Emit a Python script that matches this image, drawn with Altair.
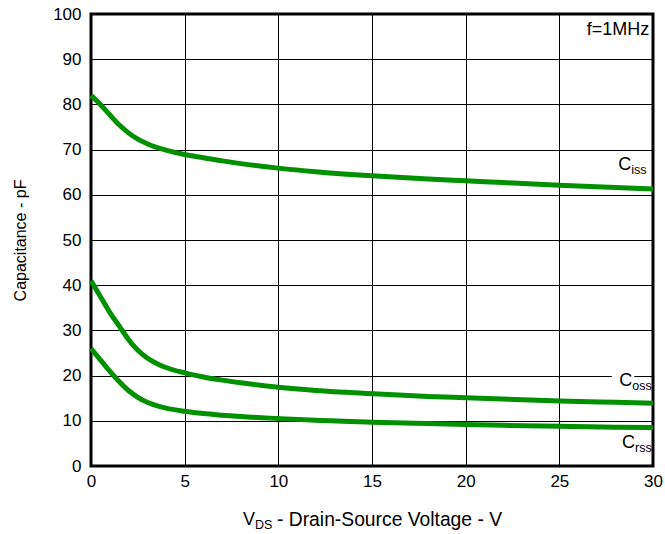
import altair as alt
import pandas as pd

vds = [0, 0.5, 1, 1.5, 2, 2.5, 3, 3.5, 4, 5, 6, 7, 8, 10, 12, 15, 18, 20, 22, 25, 28, 30]
ciss = [82, 80, 77.7, 75.5, 73.7, 72.3, 71.3, 70.5, 69.9, 68.9, 68.2, 67.5, 66.9, 65.9, 65.1, 64.2, 63.5, 63.1, 62.7, 62.1, 61.6, 61.3]
coss = [41, 37.5, 34, 31.0, 28.0, 25.6, 23.9, 22.7, 21.8, 20.6, 19.7, 19.0, 18.4, 17.4, 16.7, 16.0, 15.4, 15.1, 14.8, 14.4, 14.1, 13.9]
crss = [26, 23.5, 21, 18.7, 16.7, 15.2, 14.1, 13.35, 12.8, 12.1, 11.6, 11.25, 10.95, 10.5, 10.1, 9.7, 9.4, 9.2, 9.0, 8.8, 8.6, 8.5]

x_ticks = [0, 5, 10, 15, 20, 25, 30]
y_ticks = [0, 10, 20, 30, 40, 50, 60, 70, 80, 90, 100]

rows = []
for name, vals in [("Ciss", ciss), ("Coss", coss), ("Crss", crss)]:
    for v, c in zip(vds, vals):
        rows.append({"series": name, "vds": v, "cap": c})
df = pd.DataFrame(rows)

FONT = "Liberation Sans"
xs = alt.Scale(domain=[0, 30], nice=False, zero=False)
ys = alt.Scale(domain=[0, 100], nice=False)

lines = alt.Chart(df).mark_line(color="#009000", strokeWidth=5, interpolate="monotone").encode(
    x=alt.X("vds:Q", scale=xs, axis=alt.Axis(values=x_ticks, title=None, grid=True, gridColor="black",
            gridWidth=1, gridOpacity=1, ticks=False, domain=False, labelFontSize=17, labelFont=FONT,
            labelColor="black", labelPadding=7, labelFlush=False)),
    y=alt.Y("cap:Q", scale=ys, axis=alt.Axis(values=y_ticks, title="Capacitance - pF", grid=True,
            gridColor="black", gridWidth=1, gridOpacity=1, ticks=False, domain=False, labelFontSize=17,
            labelFont=FONT, labelColor="black", labelPadding=10, labelFlush=False, titleFontSize=16,
            titleFont=FONT, titleFontWeight="normal", titleColor="black", titlePadding=24)),
    detail="series:N",
)

# white patch behind C_oss label
patch_df = pd.DataFrame([{"x1": 27.8, "x2": 29.0, "y1": 19.4, "y2": 20.6}])
patch = alt.Chart(patch_df).mark_rect(color="white").encode(
    x=alt.X("x1:Q", scale=xs), x2="x2:Q", y=alt.Y("y1:Q", scale=ys), y2="y2:Q")

lab_df = pd.DataFrame([
    {"x": 28.15, "y": 66.7, "main": "C", "sub": "iss"},
    {"x": 28.2, "y": 18.9, "main": "C", "sub": "oss"},
    {"x": 28.35, "y": 5.0, "main": "C", "sub": "rss"},
])
main_txt = alt.Chart(lab_df).mark_text(align="left", baseline="middle", fontSize=18, font=FONT,
                                       color="black").encode(
    x=alt.X("x:Q", scale=xs), y=alt.Y("y:Q", scale=ys), text="main:N")
sub_txt = alt.Chart(lab_df).mark_text(align="left", baseline="middle", fontSize=12.5, font=FONT,
                                      color="black", dx=13, dy=5).encode(
    x=alt.X("x:Q", scale=xs), y=alt.Y("y:Q", scale=ys), text="sub:N")

f_df = pd.DataFrame([{"x": 29.8, "y": 96.5, "t": "f=1MHz"}])
f_txt = alt.Chart(f_df).mark_text(align="right", baseline="middle", fontSize=18, font=FONT,
                                  color="black").encode(
    x=alt.X("x:Q", scale=xs), y=alt.Y("y:Q", scale=ys), text="t:N")

# x-axis title with subscript
t_df = pd.DataFrame([{"a": "V", "b": "DS", "c": "- Drain-Source Voltage - V"}])
base_y = 506
tx1 = alt.Chart(t_df).mark_text(align="left", baseline="middle", fontSize=18, font=FONT, color="black").encode(
    x=alt.value(152), y=alt.value(base_y), text="a:N")
tx2 = alt.Chart(t_df).mark_text(align="left", baseline="middle", fontSize=12.5, font=FONT, color="black").encode(
    x=alt.value(164), y=alt.value(base_y + 5), text="b:N")
tx3 = alt.Chart(t_df).mark_text(align="left", baseline="middle", fontSize=19.3, font=FONT, color="black").encode(
    x=alt.value(186), y=alt.value(base_y), text="c:N")

chart = alt.layer(lines, patch, main_txt, sub_txt, f_txt, tx1, tx2, tx3).properties(
    width=562, height=452,
    autosize=alt.AutoSizeParams(type="none"),
    padding={"left": 91, "top": 14, "right": 12, "bottom": 68},
    background="white",
).configure_view(stroke="black", strokeWidth=3)

chart.save("out.html", embed_options={"renderer": "svg", "actions": False})
